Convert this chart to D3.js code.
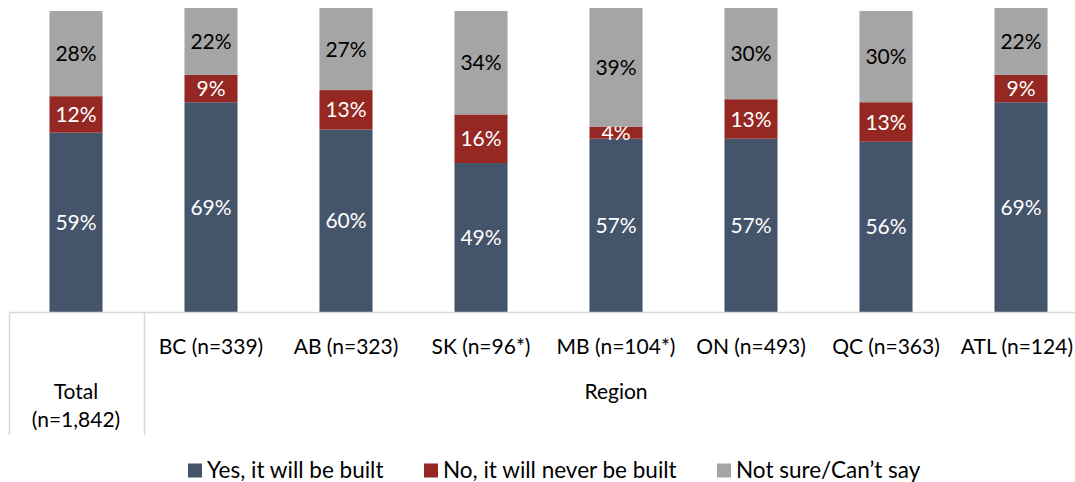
<!DOCTYPE html>
<html>
<head>
<meta charset="utf-8">
<script src="https://cdn.jsdelivr.net/npm/d3@7"></script>
<style>
  html, body { margin: 0; padding: 0; background: #fff; }
  svg { display: block; font-family: "Lato", "Open Sans", sans-serif; }
</style>
</head>
<body>
<svg id="chart" width="1075" height="482"></svg>
<script>
// Categories (first is the overall total, the rest are regions)
const categories = ["Total", "BC", "AB", "SK", "MB", "ON", "QC", "ATL"];
const categoryLabels = ["Total\n(n=1,842)", "BC (n=339)", "AB (n=323)", "SK (n=96*)", "MB (n=104*)", "ON (n=493)", "QC (n=363)", "ATL (n=124)"];
const groupLabel = "Region";

// Series values (%)
const yesBuilt   = [59, 69, 60, 49, 57, 57, 56, 69];
const neverBuilt = [12,  9, 13, 16,  4, 13, 13,  9];
const notSure    = [28, 22, 27, 34, 39, 30, 30, 22];

const seriesNames = ["Yes, it will be built", "No, it will never be built", "Not sure/Can\u2019t say"];
const seriesColors = ["#44546A", "#952822", "#A5A5A5"];
const labelColors = ["#ffffff", "#ffffff", "#000000"];

const FONT = 21;
const LEGEND_FONT = 22.5;
const WIDTH = 1075;

const svg = d3.select("#chart");

const x = d3.scaleBand()
  .domain(categories)
  .range([8.5, 1088.5])
  .paddingInner(0.607)
  .paddingOuter(0.3035);

const y = d3.scaleLinear().domain([0, 100]).range([312, 8]);

const rows = categories.map((c, i) => ({ cat: c, vals: [yesBuilt[i], neverBuilt[i], notSure[i]] }));
const stack = d3.stack().keys([0, 1, 2]).value((d, k) => d.vals[k]);
const layers = stack(rows);

const g = svg.append("g");

layers.forEach((layer, k) => {
  const lg = g.append("g");
  lg.selectAll("rect")
    .data(layer)
    .join("rect")
    .attr("x", d => x(d.data.cat))
    .attr("width", x.bandwidth())
    .attr("y", d => y(d[1]))
    .attr("height", d => y(d[0]) - y(d[1]))
    .attr("fill", seriesColors[k]);

  lg.selectAll("text")
    .data(layer)
    .join("text")
    .attr("x", d => x(d.data.cat) + x.bandwidth() / 2)
    .attr("y", d => (y(d[0]) + y(d[1])) / 2)
    .attr("dy", "0.36em")
    .attr("text-anchor", "middle")
    .attr("font-size", FONT)
    .attr("fill", labelColors[k])
    .text(d => d.data.vals[k] + "%");
});

// Multi-level category axis
const axisColor = "#D9D9D9";
const axisY = y(0) + 0.5;
const axisBottom = 435;
const firstBoundary = x(categories[0]) + x.step() - x.step() * x.paddingInner() / 2;
const left = 9.5;
const right = 1088.5;

svg.append("line")
  .attr("x1", left).attr("x2", right)
  .attr("y1", axisY).attr("y2", axisY)
  .attr("stroke", axisColor).attr("stroke-width", 1.5);

[left, Math.round(firstBoundary) + 0.5, right].forEach(xx => {
  svg.append("line")
    .attr("x1", xx).attr("x2", xx)
    .attr("y1", axisY).attr("y2", axisBottom)
    .attr("stroke", axisColor).attr("stroke-width", 1.5);
});

// Region labels (kept inside the visible width)
categories.slice(1).forEach((c, i) => {
  const t = svg.append("text")
    .attr("x", x(c) + x.bandwidth() / 2)
    .attr("y", 346)
    .attr("dy", "0.36em")
    .attr("text-anchor", "middle")
    .attr("font-size", FONT)
    .attr("fill", "#000")
    .text(categoryLabels[i + 1]);
  const w = t.node().getComputedTextLength();
  const cx = Math.min(x(c) + x.bandwidth() / 2, WIDTH - 2 - w / 2);
  t.attr("x", cx);
});

// Total label (two lines)
const totalLines = categoryLabels[0].split("\n");
totalLines.forEach((line, j) => {
  svg.append("text")
    .attr("x", x(categories[0]) + x.bandwidth() / 2)
    .attr("y", 391 + j * 28)
    .attr("dy", "0.36em")
    .attr("text-anchor", "middle")
    .attr("font-size", FONT)
    .attr("fill", "#000")
    .text(line);
});

// Group label
svg.append("text")
  .attr("x", (firstBoundary + right) / 2)
  .attr("y", 391)
  .attr("dy", "0.36em")
  .attr("text-anchor", "middle")
  .attr("font-size", FONT)
  .attr("fill", "#000")
  .text(groupLabel);

// Legend
const legendX = [188, 424, 717];
const legend = svg.append("g");
seriesNames.forEach((name, k) => {
  legend.append("rect")
    .attr("x", legendX[k]).attr("y", 463.5)
    .attr("width", 14).attr("height", 14)
    .attr("fill", seriesColors[k]);
  legend.append("text")
    .attr("x", legendX[k] + 19)
    .attr("y", 469.5)
    .attr("dy", "0.36em")
    .attr("font-size", LEGEND_FONT)
    .attr("fill", "#000")
    .text(name);
});
</script>
</body>
</html>
